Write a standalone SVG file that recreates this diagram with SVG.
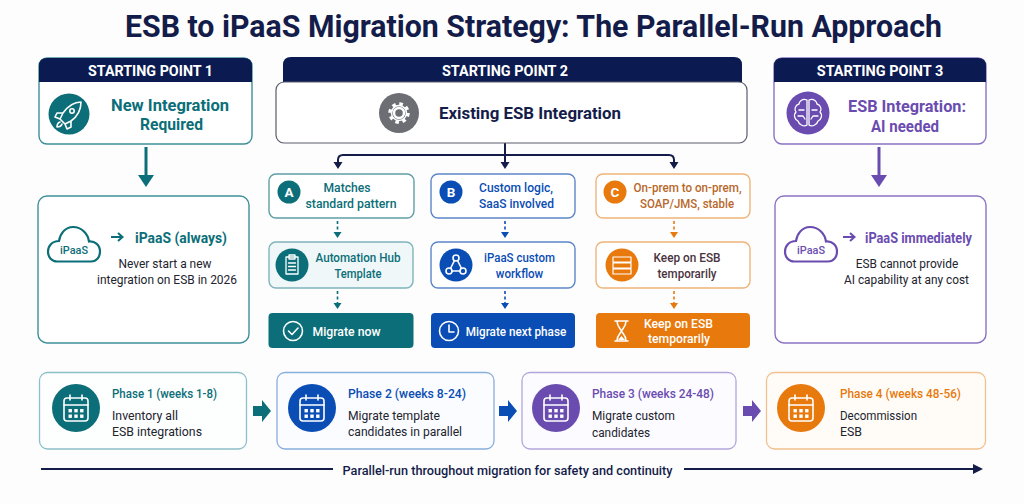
<svg xmlns="http://www.w3.org/2000/svg" width="1024" height="504" viewBox="0 0 1024 504">
<style>
text{font-family:Roboto,"Liberation Sans",sans-serif;font-weight:500;text-anchor:middle}
.l{text-anchor:start}
.hd{fill:#fff;font-size:14.5px;font-weight:700}
.t{fill:#0b6e78}.b{fill:#0a4db5}.p{fill:#6a4cb0}.o{fill:#e8790c}.n{fill:#141c4a}.k{fill:#22242e}.w{fill:#fff}
.big{font-size:16.5px;font-weight:700}
.m{font-size:13.2px}
.s{font-size:13.2px;font-weight:400}
.ic{fill:none;stroke:#fff;stroke-width:1.6;stroke-linecap:round;stroke-linejoin:round}
.box{fill:#fff;stroke-width:1.4}
.conn{fill:none;stroke-width:2}
.dash{fill:none;stroke-width:1.6;stroke-dasharray:3 2.5}
</style>
<defs>
<g id="cal"><rect x="-12" y="-10" width="24" height="23" rx="3" class="ic"/><path d="M-12-3H12M-6-13V-8M6-13V-8" class="ic"/><g fill="#fff"><rect x="-7.5" y="1" width="3.4" height="3.4"/><rect x="-1.7" y="1" width="3.4" height="3.4"/><rect x="4.1" y="1" width="3.4" height="3.4"/><rect x="-7.5" y="6.5" width="3.4" height="3.4"/><rect x="-1.7" y="6.5" width="3.4" height="3.4"/><rect x="4.1" y="6.5" width="3.4" height="3.4"/></g></g>
<path id="cloud" d="M-17 15.500H17C23 15.500 26 10.500 26 5.500C26-1 21-5 15-4.500C14-12 8-19-1-19C-9-19-14-12-15-5C-22-5-26 0-26 5.500C-26 11.500-22 15.500-17 15.500Z" fill="#fff" stroke-width="2.200"/>
<path id="ba" d="M0-5H9V-11L18 0L9 11V5H0Z"/>
</defs>
<rect width="1024" height="504" fill="#fdfdfe"/>
<text x="533.500" y="37" font-size="32" style="font-weight:700" textLength="817" lengthAdjust="spacingAndGlyphs" class="n">ESB to iPaaS Migration Strategy: The Parallel-Run Approach</text>

<g id="connectors">
<path d="M146 147V176" class="conn" stroke="#0b6e78" style="stroke-width:3"/><path d="M138 175H154L146 187Z" class="t"/>
<path d="M879 147V176" class="conn" stroke="#6a4cb0" style="stroke-width:3"/><path d="M871 175H887L879 187Z" class="p"/>
<path d="M505 143V164M338 163V160Q338 155 343 155H669Q674 155 674 160V163" class="conn" stroke="#141c4a"/>
<path d="M333.500 162H342.500L338 169Z M500.500 162H509.500L505 169Z M669.500 162H678.500L674 169Z" class="n"/>
<g class="dash" stroke="#0b6e78"><path d="M337.500 221V233M337.500 291V303"/></g>
<g class="dash" stroke="#0a4db5"><path d="M505 221V233M505 291V303"/></g>
<g class="dash" stroke="#e8790c"><path d="M674 221V233M674 291V303"/></g>
<path d="M333.500 232H341.500L337.500 238Z M333.500 303H341.500L337.500 309Z" class="t"/>
<path d="M501 232H509L505 238Z M501 303H509L505 309Z" class="b"/>
<path d="M670 232H678L674 238Z M670 303H678L674 309Z" class="o"/>
<use href="#ba" x="253" y="411" class="t"/><use href="#ba" x="499" y="411" class="b"/><use href="#ba" x="743" y="411" class="p"/>
<path d="M41 469H333M684 469H978" class="conn" stroke="#141c4a"/><path d="M973 464L983 469L973 474Z" class="n"/>
</g>

<g id="start1">
<rect x="39" y="58" width="213" height="86" rx="8" class="box" stroke="#3f8f98"/>
<path d="M39 82V66Q39 58 47 58H244Q252 58 252 66V82Z" fill="#0b1a50"/>
<text x="150.500" y="76" class="hd" textLength="125" lengthAdjust="spacingAndGlyphs">STARTING POINT 1</text>
<circle cx="69" cy="114" r="20.500" class="t"/>
<path d="M81 102C74 102 68 106 63 113L60 119L65 124L71 121C78 116 81 110 81 102ZM63 113H57L55 117L60 119M71 121V127L67 129L65 124M60 122C57 123 57 126 57 127C58 127 61 127 62 124" class="ic"/><circle cx="72" cy="111" r="2.200" class="ic"/>
<text x="170" y="111" class="big t" textLength="118" lengthAdjust="spacingAndGlyphs">New Integration</text><text x="171.500" y="130" class="big t" textLength="63" lengthAdjust="spacingAndGlyphs">Required</text>
</g>
<g id="result1">
<rect x="38" y="196" width="211" height="147" rx="9" class="box" stroke="#3f8f98"/>
<use href="#cloud" x="74" y="246" stroke="#0b6e78"/>
<text x="74" y="254" font-size="11.500" class="t" textLength="28" lengthAdjust="spacingAndGlyphs">iPaaS</text>
<path d="M111 237H122M118 233L122.500 237L118 241" class="conn" stroke="#0b6e78"/>
<text x="181" y="243" font-size="15" class="t" style="font-weight:700" textLength="92" lengthAdjust="spacingAndGlyphs">iPaaS (always)</text>
<text x="165" y="268" class="s k" textLength="93" lengthAdjust="spacingAndGlyphs">Never start a new</text><text x="167" y="284" class="s k" textLength="140" lengthAdjust="spacingAndGlyphs">integration on ESB in 2026</text>
</g>

<g id="start2">
<path d="M283 84V65Q283 57 291 57H734Q742 57 742 65V84Z" fill="#0b1a50"/>
<text x="505" y="76" class="hd" textLength="126" lengthAdjust="spacingAndGlyphs">STARTING POINT 2</text>
<rect x="276" y="82" width="471" height="61" rx="8" class="box" stroke="#5a5c6c" style="stroke-width:1.200"/>
<circle cx="399" cy="113" r="20" fill="#6c6e74"/>
<g transform="translate(399 113)"><circle r="5" fill="none" stroke="#fff" stroke-width="2.500"/><circle r="9" fill="none" stroke="#fff" stroke-width="3.500" stroke-dasharray="3.500 3.570"/><circle r="7.500" fill="none" stroke="#fff" stroke-width="1.500"/></g>
<text x="530" y="119" font-size="16.500" class="n" style="font-weight:700" textLength="182" lengthAdjust="spacingAndGlyphs">Existing ESB Integration</text>
</g>

<g id="optionA">
<rect x="269" y="174" width="145" height="44" rx="7" class="box" stroke="#5f9ea6"/>
<circle cx="289" cy="192" r="11.500" class="t"/><text x="289" y="197" font-size="13.500" class="w" style="font-weight:700">A</text>
<text x="347" y="192" class="m t" textLength="47" lengthAdjust="spacingAndGlyphs">Matches</text><text x="351" y="208" class="m t" textLength="91" lengthAdjust="spacingAndGlyphs">standard pattern</text>
</g>
<g id="templateA">
<rect x="269" y="242" width="144" height="46" rx="7" fill="#eff7f9" stroke="#7fb3ba" stroke-width="1.400"/>
<circle cx="292" cy="265" r="16.500" class="t"/>
<path d="M286 257H298V274H286ZM289 255H295V259H289ZM288.500 263H295.500M288.500 266.500H295.500M288.500 270H295.500" class="ic" style="stroke-width:1.300"/>
<text x="358" y="262" class="m t" textLength="85" lengthAdjust="spacingAndGlyphs">Automation Hub</text><text x="358" y="278" class="m t" textLength="47" lengthAdjust="spacingAndGlyphs">Template</text>
</g>
<g id="migrateA">
<rect x="268.500" y="313" width="145" height="35" rx="4" class="t"/>
<circle cx="293" cy="331" r="9.500" class="ic"/><path d="M288.500 331L292 334.500L298 328" class="ic"/>
<text x="346.500" y="336" class="m w" textLength="68" lengthAdjust="spacingAndGlyphs">Migrate now</text>
</g>

<g id="optionB">
<rect x="431" y="174" width="144" height="44" rx="7" class="box" stroke="#5c86c8"/>
<circle cx="451" cy="192" r="11.500" class="b"/><text x="451" y="197" font-size="13.500" class="w" style="font-weight:700">B</text>
<text x="516" y="192" class="m b" textLength="74" lengthAdjust="spacingAndGlyphs">Custom logic,</text><text x="516.500" y="208" class="m b" textLength="75" lengthAdjust="spacingAndGlyphs">SaaS involved</text>
</g>
<g id="workflowB">
<rect x="431" y="242" width="144" height="46" rx="7" class="box" stroke="#5c86c8"/>
<circle cx="456" cy="265" r="16.500" class="b"/>
<circle cx="456" cy="258" r="3" class="ic"/><circle cx="449" cy="271" r="3" class="ic"/><circle cx="463" cy="271" r="3" class="ic"/><path d="M454.500 260.500L450.500 268.500M457.500 260.500L461.500 268.500M452 271H460" class="ic"/>
<text x="519.500" y="262" class="m b" textLength="71" lengthAdjust="spacingAndGlyphs">iPaaS custom</text><text x="519.500" y="278" class="m b" textLength="47.500" lengthAdjust="spacingAndGlyphs">workflow</text>
</g>
<g id="migrateB">
<rect x="431" y="313" width="144" height="35" rx="4" class="b"/>
<circle cx="449" cy="331" r="9.500" class="ic"/><path d="M449 325V332H454" class="ic"/>
<text x="516" y="336" class="m w" textLength="100.500" lengthAdjust="spacingAndGlyphs">Migrate next phase</text>
</g>

<g id="optionC">
<rect x="596" y="174" width="154" height="44" rx="7" class="box" stroke="#efb47a"/>
<circle cx="615" cy="192" r="11.500" class="o"/><text x="615" y="197" font-size="13.500" class="w" style="font-weight:700">C</text>
<text x="687.500" y="192" class="m" fill="#b8682a" textLength="108" lengthAdjust="spacingAndGlyphs">On-prem to on-prem,</text><text x="687" y="208" class="m" fill="#b8682a" textLength="94" lengthAdjust="spacingAndGlyphs">SOAP/JMS, stable</text>
</g>
<g id="keepC">
<rect x="596" y="242" width="154" height="46" rx="7" class="box" stroke="#efb47a"/>
<circle cx="622" cy="265" r="16.500" class="o"/>
<path d="M613 257H631V262H613ZM613 263H631V268H613ZM613 269H631V274H613Z" class="ic" style="stroke-width:1.200"/>
<text x="687" y="262" class="m" fill="#4a3340" textLength="67" lengthAdjust="spacingAndGlyphs">Keep on ESB</text><text x="687" y="278" class="m" fill="#4a3340" textLength="59" lengthAdjust="spacingAndGlyphs">temporarily</text>
</g>
<g id="keepFinal">
<rect x="596" y="313" width="154" height="35" rx="4" class="o"/>
<path d="M615 321H628M615 341H628M617 321C617 327 621 329 621.500 331C621 333 617 335 617 341M626 321C626 327 622 329 621.500 331C622 333 626 335 626 341" class="ic"/><path d="M618 340L621.500 336L625 340Z" fill="#fff"/>
<text x="678.500" y="328" class="m w" textLength="69" lengthAdjust="spacingAndGlyphs">Keep on ESB</text><text x="679" y="343" class="m w" textLength="62" lengthAdjust="spacingAndGlyphs">temporarily</text>
</g>

<g id="start3">
<rect x="774" y="58" width="212" height="86" rx="8" class="box" stroke="#8a72c4"/>
<path d="M774 82V66Q774 58 782 58H978Q986 58 986 66V82Z" fill="#0b1a50"/>
<text x="880" y="76" class="hd" textLength="126.500" lengthAdjust="spacingAndGlyphs">STARTING POINT 3</text>
<circle cx="808" cy="113" r="21.500" class="p"/>
<path d="M807 100C802 98 799 102 799 104C795 105 794 110 796 112C793 115 795 120 798 121C799 125 804 127 807 125ZM809 100C814 98 817 102 817 104C821 105 822 110 820 112C823 115 821 120 818 121C817 125 812 127 809 125ZM799 110H804M798 116L803 116L805 119M817 110H812M818 116L813 116L811 119" class="ic" style="stroke-width:1.300"/>
<text x="907" y="111.500" class="big p" textLength="118" lengthAdjust="spacingAndGlyphs">ESB Integration:</text><text x="905" y="131.500" class="big p" textLength="68" lengthAdjust="spacingAndGlyphs">AI needed</text>
</g>
<g id="result3">
<rect x="775" y="196" width="211" height="147" rx="9" class="box" stroke="#8a72c4"/>
<use href="#cloud" x="811" y="246" stroke="#6a4cb0"/>
<text x="811" y="254" font-size="11.500" class="p" textLength="28" lengthAdjust="spacingAndGlyphs">iPaaS</text>
<path d="M843 237H854M850 233L854.500 237L850 241" class="conn" stroke="#6a4cb0"/>
<text x="918.500" y="243" font-size="15" class="p" style="font-weight:700" textLength="107" lengthAdjust="spacingAndGlyphs">iPaaS immediately</text>
<text x="907" y="268" class="s k" textLength="102.500" lengthAdjust="spacingAndGlyphs">ESB cannot provide</text><text x="906.500" y="284" class="s k" textLength="125" lengthAdjust="spacingAndGlyphs">AI capability at any cost</text>
</g>

<g id="phase1">
<rect x="39.500" y="372.500" width="207" height="76.500" rx="8" fill="#fdfefe" stroke="#8cc0c8" stroke-width="1.300"/>
<circle cx="76" cy="408" r="24" class="t"/><use href="#cal" x="76" y="408"/>
<text x="112" y="398" class="l m t" textLength="105" lengthAdjust="spacingAndGlyphs">Phase 1 (weeks 1-8)</text>
<text x="112" y="420" class="l s k" textLength="66" lengthAdjust="spacingAndGlyphs">Inventory all</text><text x="112" y="436" class="l s k" textLength="90" lengthAdjust="spacingAndGlyphs">ESB integrations</text>
</g>
<g id="phase2">
<rect x="277" y="372.500" width="217" height="76.500" rx="8" fill="#fbfcff" stroke="#88aedc" stroke-width="1.300"/>
<circle cx="312" cy="408" r="24" class="b"/><use href="#cal" x="312" y="408"/>
<text x="348" y="398" class="l m b" textLength="118" lengthAdjust="spacingAndGlyphs">Phase 2 (weeks 8-24)</text>
<text x="348" y="420" class="l s k" textLength="92" lengthAdjust="spacingAndGlyphs">Migrate template</text><text x="348" y="436" class="l s k" textLength="114" lengthAdjust="spacingAndGlyphs">candidates in parallel</text>
</g>
<g id="phase3">
<rect x="522" y="372.500" width="214" height="76.500" rx="8" fill="#fcfbff" stroke="#b3a6dc" stroke-width="1.300"/>
<circle cx="556" cy="408" r="24" class="p"/><use href="#cal" x="556" y="408"/>
<text x="592" y="398" class="l m p" textLength="122" lengthAdjust="spacingAndGlyphs">Phase 3 (weeks 24-48)</text>
<text x="592" y="420" class="l s k" textLength="83" lengthAdjust="spacingAndGlyphs">Migrate custom</text><text x="592" y="437" class="l s k" textLength="58" lengthAdjust="spacingAndGlyphs">candidates</text>
</g>
<g id="phase4">
<rect x="766.500" y="372.500" width="219" height="76.500" rx="8" fill="#fffcf8" stroke="#f2c08c" stroke-width="1.300"/>
<circle cx="801" cy="408" r="24" class="o"/><use href="#cal" x="801" y="408"/>
<text x="840" y="398" class="l m o" textLength="121" lengthAdjust="spacingAndGlyphs">Phase 4 (weeks 48-56)</text>
<text x="840" y="420" class="l s k" textLength="77" lengthAdjust="spacingAndGlyphs">Decommission</text><text x="840" y="436" class="l s k" textLength="22" lengthAdjust="spacingAndGlyphs">ESB</text>
</g>
<text x="507.500" y="475" font-size="13" class="n" textLength="330" lengthAdjust="spacingAndGlyphs">Parallel-run throughout migration for safety and continuity</text>
</svg>
